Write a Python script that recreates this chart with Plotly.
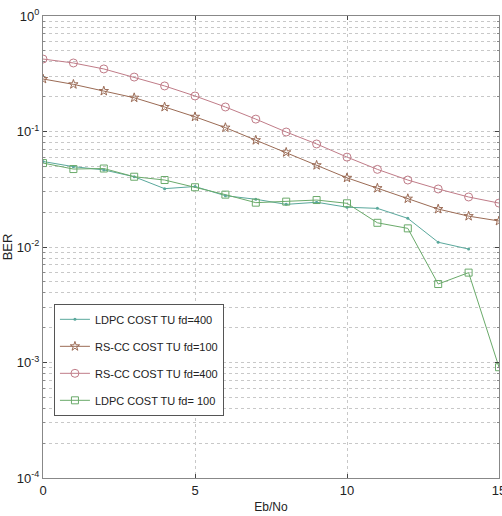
import plotly.graph_objects as go

ebno = list(range(16))
ldpc_fd400 = [0.055, 0.0496, 0.0465, 0.0406, 0.032, 0.0334, 0.0278, 0.0259,
              0.0234, 0.0244, 0.0221, 0.0216, 0.0177, 0.011, 0.0096]
rscc_fd100 = [0.285, 0.256, 0.224, 0.196, 0.163, 0.134, 0.108, 0.084,
              0.066, 0.051, 0.0397, 0.0323, 0.0262, 0.0213, 0.0185, 0.0168]
rscc_fd400 = [0.424, 0.392, 0.348, 0.296, 0.248, 0.203, 0.163, 0.128,
              0.099, 0.078, 0.060, 0.047, 0.038, 0.0318, 0.0271, 0.024]
ldpc_fd100 = [0.0533, 0.0473, 0.0478, 0.0406, 0.038, 0.0329, 0.0284, 0.0242,
              0.0247, 0.0255, 0.0239, 0.0162, 0.0145, 0.00478, 0.0060, 0.00091]

names = ["LDPC COST TU fd=400", "RS-CC COST TU fd=100",
         "RS-CC COST TU fd=400", "LDPC COST TU fd= 100"]
colors = ["#5aa89c", "#9b6b55", "#c07c88", "#6aaa6a"]

x_ticks = [0, 5, 10, 15]
y_ticks = [1e-4, 1e-3, 1e-2, 1e-1, 1]
y_ticktext = ["10<sup>-4</sup>", "10<sup>-3</sup>", "10<sup>-2</sup>",
              "10<sup>-1</sup>", "10<sup>0</sup>"]
y_minor = [m * 10 ** e for e in range(-4, 0) for m in range(2, 10)]

fig = go.Figure()
fig.add_trace(go.Scatter(x=ebno[:len(ldpc_fd400)], y=ldpc_fd400, name=names[0],
                         mode="lines+markers", legendgroup="a",
                         line=dict(color=colors[0], width=1),
                         marker=dict(symbol="circle", size=3, color=colors[0])))
fig.add_trace(go.Scatter(x=ebno, y=rscc_fd100, name=names[1], mode="lines+markers",
                         legendgroup="b",
                         line=dict(color=colors[1], width=1),
                         marker=dict(symbol="star-open", size=7, color=colors[1],
                                     line=dict(width=1))))
fig.add_trace(go.Scatter(x=ebno, y=rscc_fd400, name=names[2], mode="lines+markers",
                         legendgroup="c",
                         line=dict(color=colors[2], width=1),
                         marker=dict(symbol="circle-open", size=8, color=colors[2],
                                     line=dict(width=1))))
fig.add_trace(go.Scatter(x=ebno, y=ldpc_fd100, name=names[3], mode="lines+markers",
                         legendgroup="d",
                         line=dict(color=colors[3], width=1),
                         marker=dict(symbol="square-open", size=7, color=colors[3],
                                     line=dict(width=1))))

font_family = "Liberation Sans, Arial"

fig.update_layout(
    width=502, height=516,
    margin=dict(l=43, r=3, t=16, b=38, autoexpand=False),
    paper_bgcolor="white", plot_bgcolor="white",
    font=dict(family=font_family, size=13, color="#222"),
    showlegend=True,
    legend=dict(x=0.024, y=0.377, xanchor="left", yanchor="top",
                bgcolor="white", bordercolor="#555", borderwidth=1,
                font=dict(size=11, family=font_family), tracegroupgap=8,
                itemwidth=30),
    xaxis=dict(range=[0, 15], tickvals=x_ticks, ticks="inside", ticklen=4,
               showline=True, linecolor="#888", linewidth=1, mirror="ticks",
               showgrid=True, gridcolor="#c8c8c8", griddash="dot", gridwidth=1,
               zeroline=False, tickfont=dict(size=13), automargin=False,
               ticklabeloverflow="allow",
               title=dict(text="Eb/No", font=dict(size=12), standoff=6)),
    yaxis=dict(type="log", range=[-4, 0], tickvals=y_ticks, ticktext=y_ticktext,
               ticks="inside", ticklen=4, automargin=False,
               ticklabeloverflow="allow",
               showline=True, linecolor="#888", linewidth=1, mirror="ticks",
               showgrid=True, gridcolor="#c8c8c8", griddash="dot", gridwidth=1,
               zeroline=False, tickfont=dict(size=13),
               minor=dict(tickvals=y_minor, ticks="inside", ticklen=2,
                          tickcolor="#888", showgrid=True, gridcolor="#c8c8c8",
                          griddash="dot", gridwidth=1),
               title=dict(text="BER", font=dict(size=13), standoff=4)),
)

fig.write_html("out.html", config={"displayModeBar": False},
               post_script="document.body.style.margin='0';"
                           "document.body.style.overflow='hidden';")
